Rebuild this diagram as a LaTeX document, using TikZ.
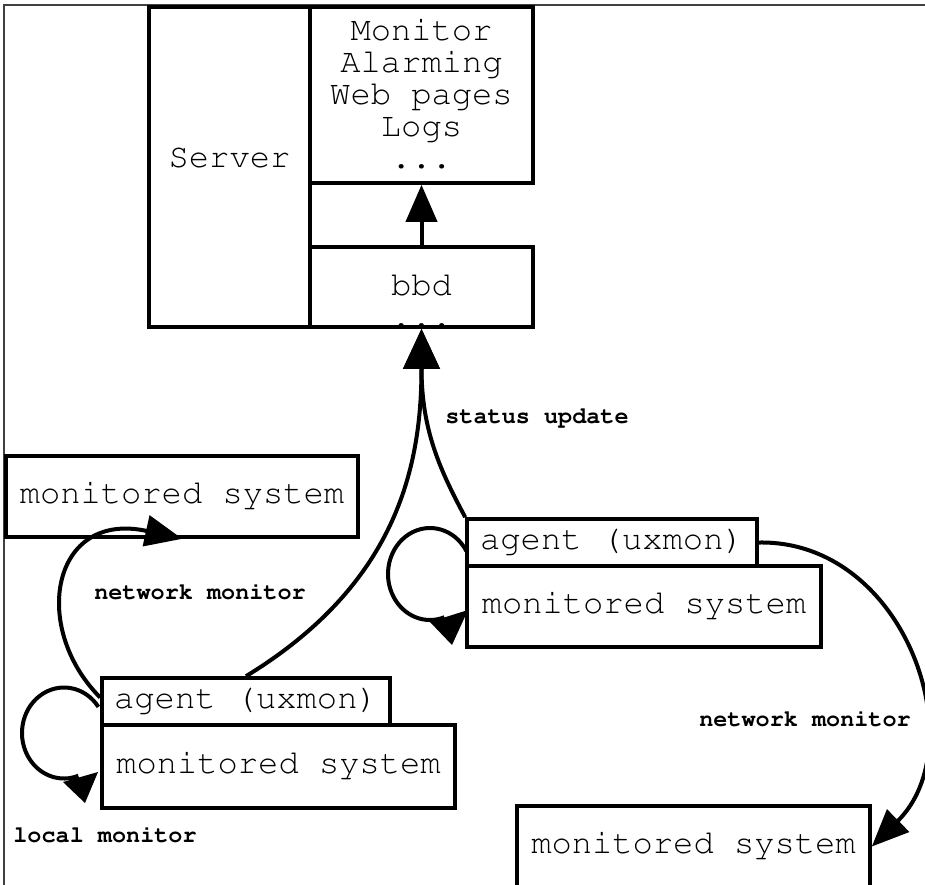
\documentclass[tikz,border=0pt]{standalone}
\usepackage[T1]{fontenc}
\usepackage{courier}
\usetikzlibrary{arrows.meta,calc}
\newcommand{\mfont}{\fontsize{33.8}{32}\selectfont\ttfamily}
\newcommand{\lfont}{\fontsize{23.5}{26}\selectfont\ttfamily\bfseries}
\begin{document}
\begin{tikzpicture}[x=1pt,y=-1pt,
  box/.style={draw, line width=3.6pt, inner sep=0pt, font=\mfont, text height=20pt, text depth=6pt},
  txt/.style={font=\mfont, inner sep=0pt, anchor=base},
  lbl/.style={font=\lfont, inner sep=0pt, anchor=base},
  conn/.style={line width=4pt},
  bigtip/.style={-{Triangle[length=40pt,width=36pt]}},
  midtip/.style={-{Triangle[length=37pt,width=31pt]}}]
\useasboundingbox (0,0) rectangle (925,884);
\fill[white] (-10,-10) rectangle (940,900);
% frame
\draw[line width=1.3pt, black!75] (4,890) -- (4,5) -- (935,5);
% server record
\node[box, minimum width=161pt, minimum height=320pt, text height=10pt, text depth=10pt] (srv) at (229.5,167) {Server};
\node[box, minimum width=223pt, minimum height=176pt] (mon) at (421.5,95) {};
\node[txt] (montext) at (421.5,40) {\begin{tabular}[t]{@{}c@{}}Monitor\\Alarming\\Web pages\\Logs\\...\end{tabular}};
\node[box, minimum width=223pt, minimum height=80pt] (bbd) at (421.5,287) {};
\node[txt] (bbdtext) at (421.5,295) {\begin{tabular}[t]{@{}c@{}}bbd\\...\end{tabular}};
% monitored systems and agents
\node[box, minimum width=352pt, minimum height=81pt] (ms1) at (182,496.5) {monitored system};
\node[box, minimum width=288pt, minimum height=47pt] (ag1) at (246,701.5) {agent (uxmon)};
\node[box, minimum width=353pt, minimum height=83pt] (ms2) at (278.5,766.5) {monitored system};
\node[box, minimum width=290pt, minimum height=47pt] (ag2) at (612,542.5) {agent (uxmon)};
\node[box, minimum width=354pt, minimum height=81pt] (ms3) at (644,606.5) {monitored system};
\node[box, minimum width=353pt, minimum height=81pt] (ms4) at (693.5,846.5) {monitored system};
% connectors
\draw[conn, midtip] (bbd.north) -- (mon.south);
\draw[conn, bigtip] (ag1.north) .. controls (395,585) and (421.5,470) .. (bbd.south);
\draw[conn, bigtip] (ag2.north west) .. controls (440,470) and (421.5,430) .. (bbd.south);
\draw[conn, midtip] ([yshift=4pt]ag1.west) .. controls (30,627) and (52,510) .. ([xshift=178pt]ms1.south west);
\draw[conn, midtip] (ag2.east) .. controls (905,540) and (975,745) .. (ms4.east);
% self loops
\coordinate (lc) at (64,733);
\draw[conn] ([shift={(35:42pt and 45.5pt)}]lc) arc[start angle=35, end angle=290, x radius=42pt, y radius=45.5pt];
\fill (63,782) -- (98,772) -- (85,803) -- cycle;
\coordinate (rc) at (430,574);
\draw[conn] ([shift={(30:42pt and 46pt)}]rc) arc[start angle=30, end angle=290, x radius=42pt, y radius=46pt];
\fill (430,622) -- (468,610) -- (452,645) -- cycle;
% labels
\node[lbl] (lsu) at (537,423) {status update};
\node[lbl] (lnm1) at (200,599) {network monitor};
\node[lbl] (lnm2) at (805,726) {network monitor};
\node[lbl] (llm) at (105,842) {local monitor};
\end{tikzpicture}
\end{document}
